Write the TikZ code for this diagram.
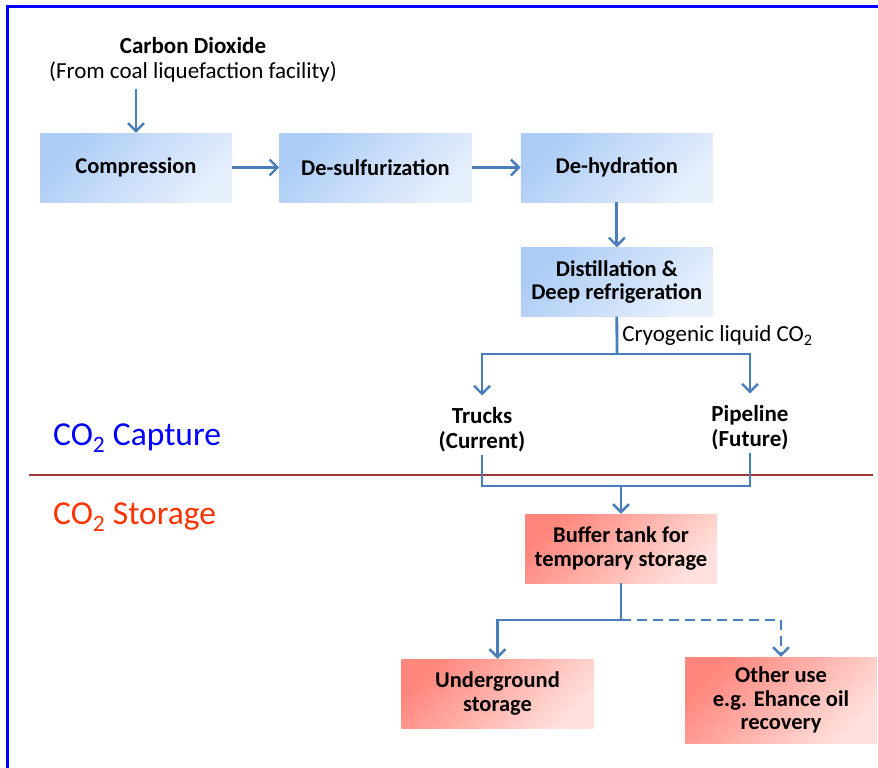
\documentclass[tikz,border=0pt]{standalone}
\usepackage{fontspec}
\setmainfont{Carlito}
\usepackage{tikz}
\usetikzlibrary{arrows.meta}
\usetikzlibrary{positioning}
\definecolor{procTop}{RGB}{172,204,245}
\definecolor{procBottom}{RGB}{230,239,252}
\definecolor{storeTop}{RGB}{255,134,124}
\definecolor{storeBottom}{RGB}{255,224,220}
\definecolor{flowLine}{RGB}{74,126,187}
\definecolor{divider}{RGB}{158,56,56}
\definecolor{storeText}{RGB}{255,51,0}
\tikzstyle{box} = [rectangle, inner sep=0pt, align=center, minimum width=192pt,
        minimum height=69pt, font={\fontsize{22.5}{23.5}\selectfont\bfseries}]
\tikzstyle{proc} = [box, top color=procTop, bottom color=procBottom, shading angle=45]
\tikzstyle{store} = [box, top color=storeTop, bottom color=storeBottom, shading angle=45]
\tikzstyle{flow} = [draw=flowLine, line width=2.8pt, -{Straight Barb[length=8pt,width=16pt,line width=2.4pt]}]
\tikzstyle{link} = [draw=flowLine, line width=2.8pt]
\tikzstyle{caption} = [align=center, inner sep=0pt, font={\fontsize{23}{25}\selectfont}]
\tikzstyle{section} = [anchor=west, inner sep=0pt, font={\fontsize{33.5}{36}\selectfont}]

\begin{document}
\begin{tikzpicture}[x=1pt, y=-1pt]
            \useasboundingbox (0,0) rectangle (878,768);
            % frame and divider
            \draw [blue, line width=2.4pt] (7.5,768) -- (7.5,6.5) -- (878,6.5);
            \draw [divider, line width=2.6pt] (29,475) -- (873,475);
            \node [section, text=blue] (capture) at (53,438) {CO\textsubscript{2} Capture};
            \node [section, text=storeText] (storage) at (53,517) {CO\textsubscript{2} Storage};
            % capture chain
            \node [caption] (source) at (193,60) {\textbf{Carbon Dioxide}\\(From coal liquefaction facility)};
            \node [proc] (comp) at (136,167.5) {Compression};
            \node [proc, right=47pt of comp] (desulf) {De-sulfurization};
            \node [proc, right=49pt of desulf] (dehyd) {De-hydration};
            \node [proc, below=45pt of dehyd] (distill) {Distillation \&\\Deep refrigeration};
            \node [caption, font={\fontsize{23}{25}\selectfont\bfseries}] (trucks) at (482,430) {Trucks\\(Current)};
            \node [caption, font={\fontsize{23}{25}\selectfont\bfseries}] (pipe) at (750,428) {Pipeline\\(Future)};
            \coordinate (split) at (617,354);
            \coordinate (merge) at (621,486);
            % storage side
            \node [store] (buffer) at (621,548.5) {Buffer tank for\\temporary storage};
            \node [store] (under) at (497.5,693.5) {Underground\\storage};
            \node [store, minimum height=86pt] (other) at (781,700) {Other use\\e.g. Ehance oil\\recovery};
            \coordinate (fork) at (621,620);
            % connectors
            \draw [flow, shorten <=6pt] (comp.north |- source.south) -- (comp.north);
            \draw [flow] (comp) -- (desulf);
            \draw [flow] (desulf) -- (dehyd);
            \draw [flow] (dehyd) -- (distill);
            \draw [link] (distill.south)
                --
                node [caption, right=4pt] {Cryogenic liquid CO\textsubscript{2}} (split);
            \draw [flow, shorten >=12pt] (split) -| (trucks.north);
            \draw [flow, shorten >=12pt] (split) -| (pipe.north);
            \draw [link, shorten <=2pt] (trucks.south) |- (merge);
            \draw [link, shorten <=2pt] (pipe.south) |- (merge);
            \draw [flow] (merge) -- (buffer.north);
            \draw [flow] (buffer.south) -- (fork) -| (under.north);
            \draw [flow, dashed, dash pattern=on 10pt off 6pt] (fork) -| (other.north);
        \end{tikzpicture}
\end{document}
